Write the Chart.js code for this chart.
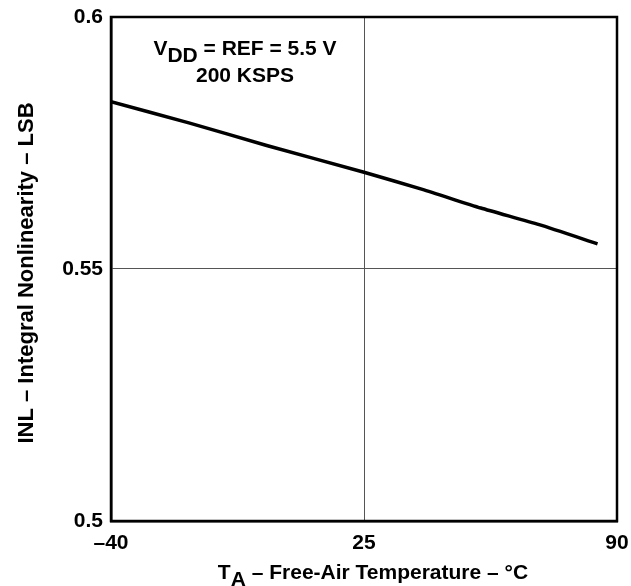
<!DOCTYPE html>
<html>
<head>
<meta charset="utf-8">
<script src="https://cdn.jsdelivr.net/npm/chart.js@4"></script>
<style>
  html, body { margin: 0; padding: 0; background: #fff; }
  #wrap { width: 631px; height: 586px; }
</style>
</head>
<body>
<div id="wrap"><canvas id="grafico" width="631" height="586"></canvas></div>
<script>
// datos
const temperaturas = [-40, -20, 0, 25, 40, 55, 70, 85];
const valoresINL = [0.5832, 0.5790, 0.5745, 0.5692, 0.5658, 0.5621, 0.5588, 0.5550];
const ticksX = [-40, 25, 90];
const ticksY = [0.5, 0.55, 0.6];
const etiquetasX = ['\u201340', '25', '90'];
const etiquetasY = ['0.5', '0.55', '0.6'];

const fuente = '"Liberation Sans", Arial, sans-serif';

// texto con subíndice (V_DD, T_A)
const textoConSub = (ctx, partes, x, y, size) => {
    let total = 0;
    partes.forEach(p => {
        ctx.font = `bold ${size}px ${fuente}`;
        total += ctx.measureText(p.t).width;
    });
    let cx = x - total / 2;
    partes.forEach(p => {
        ctx.font = `bold ${size}px ${fuente}`;
        ctx.fillText(p.t, cx, p.sub ? y + size * 0.33 : y);
        cx += ctx.measureText(p.t).width;
    });
};

const textosPlugin = {
    id: 'textos',
    afterDraw(chart) {
        const { ctx, chartArea } = chart;
        ctx.save();
        // marco
        ctx.strokeStyle = '#000';
        ctx.lineWidth = 2.5;
        ctx.strokeRect(chartArea.left, chartArea.top, chartArea.right - chartArea.left, chartArea.bottom - chartArea.top);

        ctx.fillStyle = '#000';
        ctx.textAlign = 'left';
        ctx.textBaseline = 'alphabetic';
        textoConSub(ctx, [{ t: 'V' }, { t: 'DD', sub: true }, { t: ' = REF = 5.5 V' }], 245, 55, 21);
        ctx.textAlign = 'center';
        ctx.font = `bold 21px ${fuente}`;
        ctx.fillText('200 KSPS', 245, 82);

        ctx.textAlign = 'left';
        textoConSub(ctx, [{ t: 'T' }, { t: 'A', sub: true }, { t: ' \u2013 Free-Air Temperature \u2013 \u00B0C' }], 373, 579, 21);

        // título eje Y
        ctx.translate(27, 273);
        ctx.rotate(-Math.PI / 2);
        ctx.textAlign = 'center';
        ctx.textBaseline = 'middle';
        ctx.font = `bold 22px ${fuente}`;
        ctx.fillText('INL \u2013 Integral Nonlinearity \u2013 LSB', 0, 0);
        ctx.restore();
    }
};

new Chart(document.getElementById('grafico').getContext('2d'), {
    type: 'line',
    data: {
        datasets: [{
            data: temperaturas.map((t, i) => ({ x: t, y: valoresINL[i] })),
            borderColor: '#000',
            borderWidth: 3.5,
            pointRadius: 0,
            tension: 0.2,
            fill: false
        }]
    },
    options: {
        responsive: false,
        animation: false,
        layout: { padding: { left: 0, right: 14, top: 17, bottom: 0 } },
        plugins: { legend: { display: false }, tooltip: { enabled: false } },
        scales: {
            x: {
                type: 'linear',
                min: -40,
                max: 90,
                afterBuildTicks: axis => { axis.ticks = ticksX.map(v => ({ value: v })); },
                afterFit: axis => {
                    axis.height = 65;
                    axis.paddingLeft = 0;
                    axis.paddingRight = 0;
                },
                ticks: {
                    color: '#000',
                    font: { family: fuente, size: 21, weight: 'bold' },
                    padding: 10,
                    maxRotation: 0,
                    callback: (v) => etiquetasX[ticksX.indexOf(v)]
                },
                grid: { color: '#555', lineWidth: 1, drawTicks: false },
                border: { color: '#000', width: 2.5 }
            },
            y: {
                min: 0.5,
                max: 0.6,
                afterBuildTicks: axis => { axis.ticks = ticksY.map(v => ({ value: v })); },
                afterFit: axis => {
                    axis.width = 111;
                    axis.paddingTop = 0;
                    axis.paddingBottom = 0;
                },
                ticks: {
                    color: '#000',
                    font: { family: fuente, size: 21, weight: 'bold' },
                    padding: 8,
                    callback: (v) => etiquetasY[ticksY.indexOf(v)]
                },
                grid: { color: '#555', lineWidth: 1, drawTicks: false },
                border: { color: '#000', width: 2.5 }
            }
        }
    },
    plugins: [textosPlugin]
});
</script>
</body>
</html>
